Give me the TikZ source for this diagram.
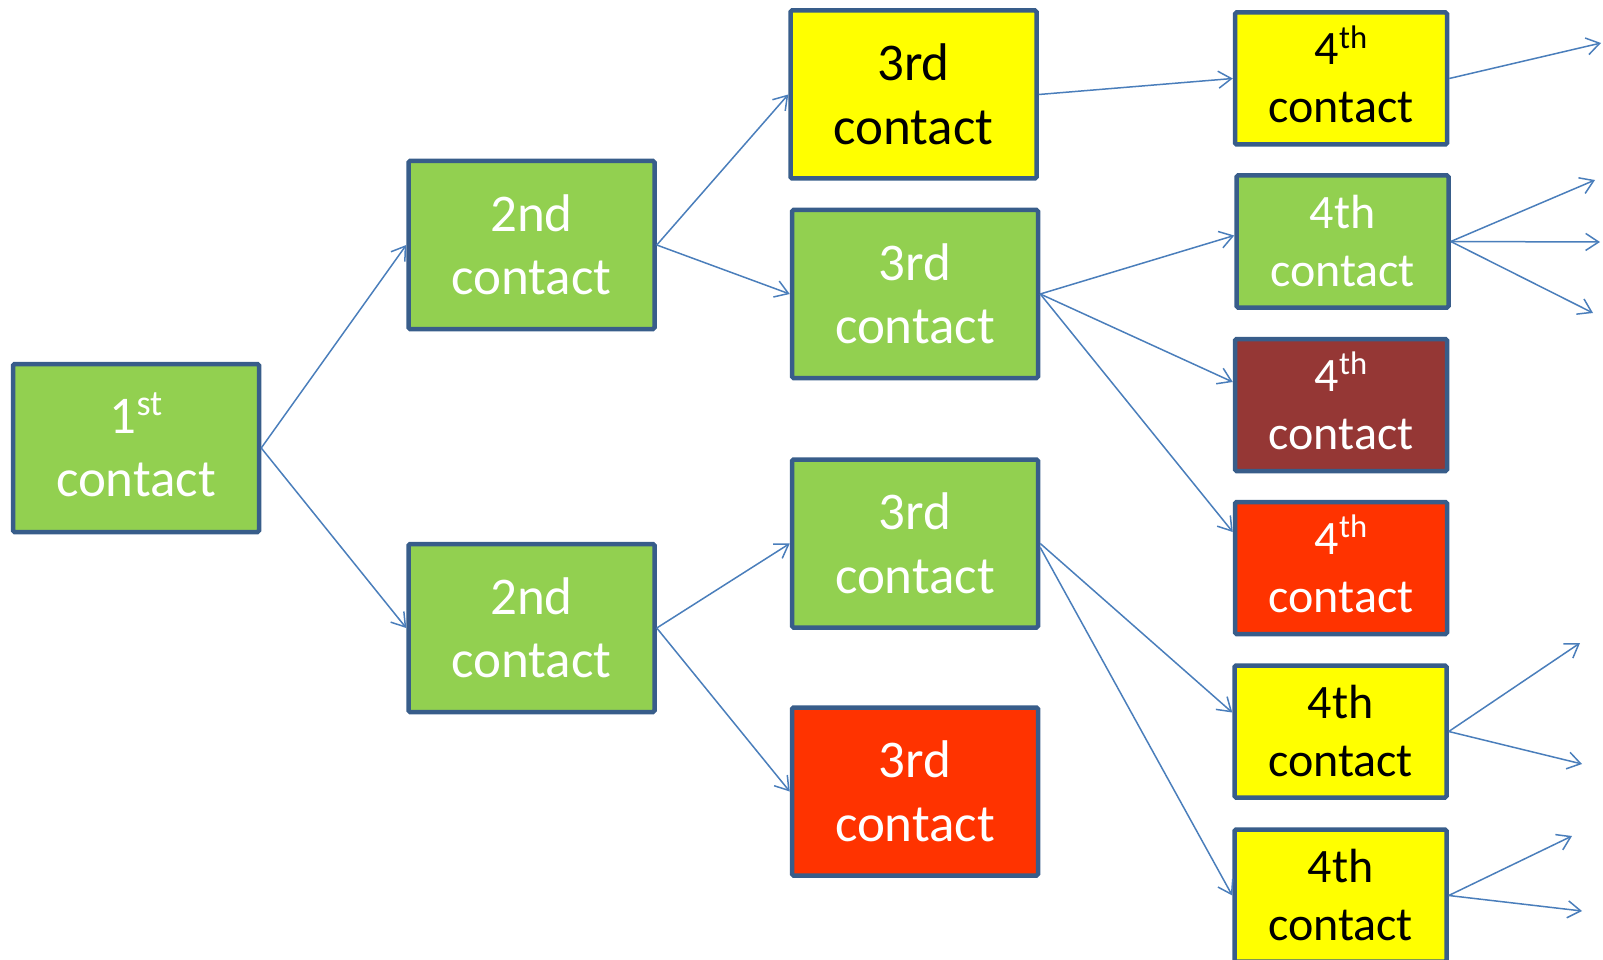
\documentclass[tikz,border=0pt]{standalone}
\usepackage{fontspec}
\setmainfont{Carlito}
\usetikzlibrary{arrows.meta}
\definecolor{bgreen}{HTML}{92D050}
\definecolor{byellow}{HTML}{FFFF00}
\definecolor{bred}{HTML}{FF3300}
\definecolor{bbrown}{HTML}{953735}
\definecolor{bborder}{HTML}{385D8A}
\definecolor{barrow}{HTML}{4A7EBB}
\newcommand\supr[1]{\raisebox{0.34em}[0pt][0pt]{\fontsize{0.68\dimexpr\fontdimen6\font\relax}{10}\selectfont #1}}
\tikzset{
  box/.style={draw=bborder, line width=4.5pt, rounded corners=1.5pt, inner sep=0pt, align=center},
  bigbox/.style={box, minimum width=246pt, minimum height=168pt, font=\fontsize{53}{63.5}\selectfont},
  smallbox/.style={box, minimum width=212pt, minimum height=132pt, font=\fontsize{48}{58}\selectfont},
  green/.style={fill=bgreen, text=white},
  yellow/.style={fill=byellow, text=black},
  red/.style={fill=bred, text=white},
  brown/.style={fill=bbrown, text=white},
  conn/.style={draw=barrow, line width=1.5pt, -{Straight Barb[length=13pt,width=17pt,line width=1.5pt]}}
}
\begin{document}
\begin{tikzpicture}[x=1pt,y=-1pt]
\useasboundingbox (0,0) rectangle (1603,960);
\node[bigbox,green] (A) at (136,448) {1\supr{st}\\contact};
\node[bigbox,green] (B1) at (531.5,245) {2nd\\contact};
\node[bigbox,green] (B2) at (531.5,628) {2nd\\contact};
\node[bigbox,yellow] (C1) at (913.5,94.5) {3rd\\contact};
\node[bigbox,green] (C2) at (915,294) {3rd\\contact};
\node[bigbox,green] (C3) at (915,543.5) {3rd\\contact};
\node[bigbox,red] (C4) at (915,791.5) {3rd\\contact};
\node[smallbox,yellow] (D1) at (1341,78.5) {4\supr{th}\\contact};
\node[smallbox,green] (D2) at (1342.5,241.5) {4th\\contact};
\node[smallbox,brown] (D3) at (1341,405) {4\supr{th}\\contact};
\node[smallbox,red] (D4) at (1341,568) {4\supr{th}\\contact};
\node[smallbox,yellow] (D5) at (1340.5,731.5) {4th\\contact};
\node[smallbox,yellow] (D6) at (1340.5,895.5) {4th\\contact};
\coordinate (e1) at (1601,43);
\coordinate (e2) at (1595,180);
\coordinate (e3) at (1600,242);
\coordinate (e4) at (1593,313);
\coordinate (e5) at (1580,643);
\coordinate (e6) at (1582,764);
\coordinate (e7) at (1572,836);
\coordinate (e8) at (1582,911);
\draw[conn] (A.east) -- (B1.west);
\draw[conn] (A.east) -- (B2.west);
\draw[conn] (B1.east) -- (C1.west);
\draw[conn] (B1.east) -- (C2.west);
\draw[conn] (B2.east) -- (C3.west);
\draw[conn] (B2.east) -- (C4.west);
\draw[conn] (C1.east) -- (D1.west);
\draw[conn] (C2.east) -- ([yshift=6pt]D2.west);
\draw[conn] (C2.east) -- ([yshift=23pt]D3.west);
\draw[conn] (C2.east) -- ([yshift=36pt]D4.west);
\draw[conn] (C3.east) -- ([yshift=19pt]D5.west);
\draw[conn] ([yshift=-4pt]C3.east) -- (D6.west);
\draw[conn] (D1.east) -- (e1);
\draw[conn] (D2.east) -- (e2);
\draw[conn] (D2.east) -- (e3);
\draw[conn] (D2.east) -- (e4);
\draw[conn] (D5.east) -- (e5);
\draw[conn] (D5.east) -- (e6);
\draw[conn] (D6.east) -- (e7);
\draw[conn] (D6.east) -- (e8);
\end{tikzpicture}
\end{document}
